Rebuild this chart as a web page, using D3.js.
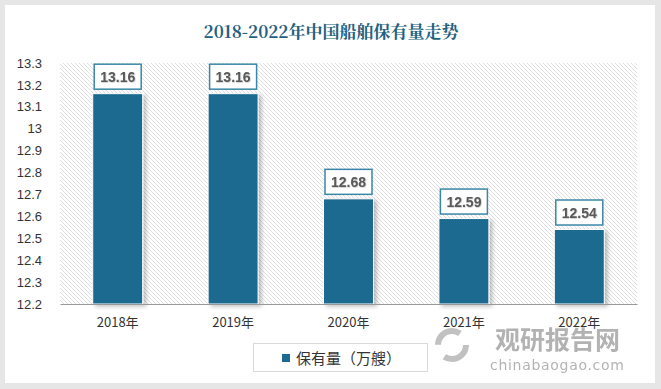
<!DOCTYPE html>
<html>
<head>
<meta charset="utf-8">
<script src="https://cdn.jsdelivr.net/npm/d3@7"></script>
<style>
  body { margin: 0; background: #e6e6e6; }
  svg { display: block; }
</style>
</head>
<body>
<svg id="chart" width="661" height="389"></svg>
<script>
// data
const years = ['2018年', '2019年', '2020年', '2021年', '2022年']
const fleet = [13.16, 13.16, 12.68, 12.59, 12.54]
const yTicks = [12.2, 12.3, 12.4, 12.5, 12.6, 12.7, 12.8, 12.9, 13, 13.1, 13.2, 13.3]
const seriesName = '保有量（万艘）'
const titleText = '2018-2022年中国船舶保有量走势'

const W = 661, H = 389
const margin = {top: 63, right: 24, bottom: 85, left: 60}
const barColor = '#1c6a8f'

const svg = d3.select('#chart')

// card
svg.append('rect').attr('x', 5).attr('y', 5).attr('width', 650).attr('height', 378)
  .attr('fill', '#fff')

const defs = svg.append('defs')
const pat = defs.append('pattern').attr('id', 'hatch')
  .attr('patternUnits', 'userSpaceOnUse').attr('width', 4).attr('height', 4)
pat.append('path').attr('d', 'M-1,-1 L5,5 M-1,3 L1,5 M3,-1 L5,1')
  .attr('stroke', '#e0e0e0').attr('stroke-width', 1)

const sh = defs.append('filter').attr('id', 'shadow')
  .attr('x', '-20%').attr('y', '-20%').attr('width', '150%').attr('height', '140%')
sh.append('feDropShadow').attr('dx', 3).attr('dy', 2).attr('stdDeviation', 2)
  .attr('flood-color', '#000').attr('flood-opacity', 0.25)

const sh2 = defs.append('filter').attr('id', 'tshadow')
sh2.append('feDropShadow').attr('dx', 0.5).attr('dy', 0.5).attr('stdDeviation', 0.4)
  .attr('flood-color', '#000').attr('flood-opacity', 0.3)

// title
svg.append('text').attr('x', 331).attr('y', 38).attr('text-anchor', 'middle')
  .attr('font-family', '"Noto Serif CJK SC", "DejaVu Serif", serif')
  .attr('font-weight', 'bold').attr('font-size', 17).attr('fill', '#22617f')
  .text(titleText)

const x = d3.scaleBand().domain(years).range([margin.left, W - margin.right])
  .paddingInner(0.567).paddingOuter(0.2835)
const y = d3.scaleLinear().domain([12.2, 13.3]).range([H - margin.bottom, margin.top])

// plot background
svg.append('rect').attr('x', margin.left).attr('y', margin.top)
  .attr('width', W - margin.right - margin.left).attr('height', y(12.2) - y(13.3))
  .attr('fill', 'url(#hatch)')

// y axis labels
const yAxis = svg.append('g').attr('transform', 'translate(' + (margin.left - 15) + ',0)')
  .call(d3.axisLeft(y).tickValues(yTicks).tickSize(0).tickFormat(d => d3.format('')(d)))
yAxis.select('.domain').remove()
yAxis.selectAll('text').attr('font-family', '"Liberation Sans", Arial, sans-serif')
  .attr('font-size', 13).attr('fill', '#333')

// bars
svg.append('g').selectAll('rect').data(fleet).join('rect')
  .attr('x', (d, i) => x(years[i])).attr('y', d => y(d))
  .attr('width', x.bandwidth()).attr('height', d => y(12.2) - y(d))
  .attr('fill', barColor).attr('stroke', '#fff').attr('stroke-width', 1)
  .attr('filter', 'url(#shadow)')

// x axis
const xAxis = svg.append('g').attr('transform', 'translate(0,' + y(12.2) + ')')
  .call(d3.axisBottom(x).tickSize(0).tickPadding(14))
xAxis.select('.domain').attr('stroke', '#999').attr('stroke-width', 1.2)
xAxis.selectAll('text').attr('font-family', '"Noto Sans CJK SC", sans-serif')
  .attr('font-size', 13).attr('fill', '#333')

// value labels
const lab = svg.append('g').selectAll('g').data(fleet).join('g')
  .attr('transform', (d, i) => 'translate(' + (x(years[i]) + x.bandwidth() / 2) + ',' + (y(d) - 17) + ')')
lab.append('rect').attr('x', -23.5).attr('y', -12.5).attr('width', 47).attr('height', 25)
  .attr('fill', '#fff').attr('stroke', '#3a86a8').attr('stroke-width', 1.5)
lab.append('text').attr('text-anchor', 'middle').attr('dy', '0.36em')
  .attr('font-family', '"Liberation Sans", Arial, sans-serif').attr('font-weight', 'bold')
  .attr('font-size', 14).attr('fill', '#5a5a5a').attr('filter', 'url(#tshadow)')
  .text(d => d.toFixed(2))

// legend
const leg = svg.append('g')
leg.append('rect').attr('x', 253.5).attr('y', 343.5).attr('width', 174).attr('height', 28)
  .attr('fill', '#fff').attr('stroke', '#d9d9d9')
leg.append('rect').attr('x', 282).attr('y', 354).attr('width', 8).attr('height', 8).attr('fill', barColor)
leg.append('text').attr('x', 296).attr('y', 363.5)
  .attr('font-family', '"Noto Sans CJK SC", sans-serif').attr('font-size', 15).attr('fill', '#333')
  .text(seriesName)

// watermark
const wm = svg.append('g').attr('opacity', 0.6)
wm.append('circle').attr('cx', 452).attr('cy', 345).attr('r', 14)
  .attr('fill', 'none').attr('stroke', '#999').attr('stroke-width', 6)
  .attr('stroke-dasharray', '30 14')
wm.append('text').attr('x', 495).attr('y', 349)
  .attr('font-family', '"Noto Sans CJK SC", sans-serif').attr('font-weight', 'bold')
  .attr('font-size', 25).attr('fill', '#808080').text('观研报告网')
wm.append('text').attr('x', 490).attr('y', 370)
  .attr('font-family', '"DejaVu Sans", sans-serif').attr('font-size', 14)
  .attr('letter-spacing', 0.7).attr('fill', '#808080').text('chinabaogao.com')
</script>
</body>
</html>
